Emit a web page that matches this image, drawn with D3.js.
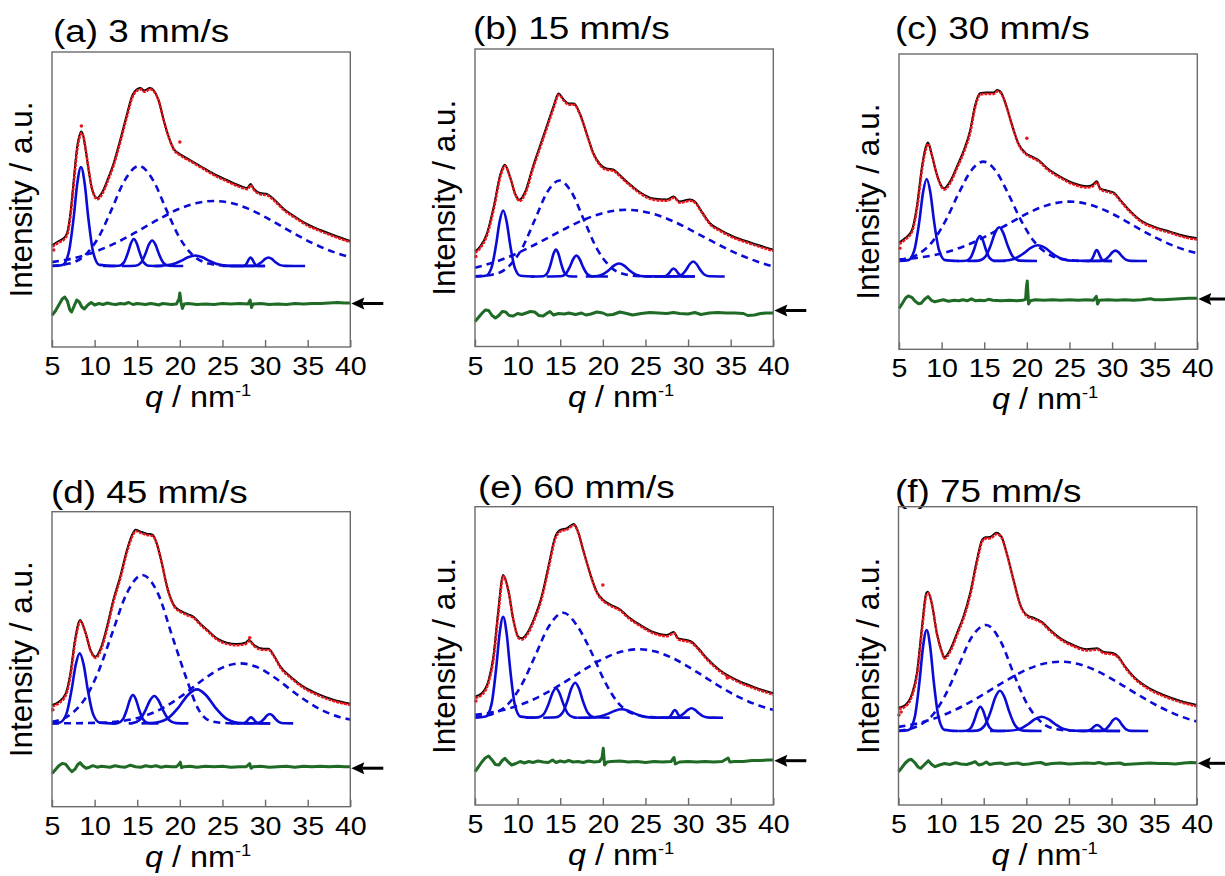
<!DOCTYPE html>
<html>
<head>
<meta charset="utf-8">
<script src="https://cdn.jsdelivr.net/npm/d3@7"></script>
<style>
  body { margin: 0; background: #fff; }
  svg { display: block; font-family: "Liberation Sans", Arial, sans-serif; }
</style>
</head>
<body>
<div id="chart"></div>
<script>
// Six panels of q-profiles with peak decomposition (a.u.)

const qTicks = [5, 10, 15, 20, 25, 30, 35, 40];
const panelTitles = ["(a) 3 mm/s", "(b) 15 mm/s", "(c) 30 mm/s", "(d) 45 mm/s", "(e) 60 mm/s", "(f) 75 mm/s"];
const arrowLevels = [43.5, 36, 50.3, 38.5, 44.3, 41.7];

// ---- (a) 3 mm/s ----
const fitA = [[5,101.7],[5.8,106],[6.4,109],[6.8,115],[7.15,133],[7.55,167],[7.95,200],[8.2,211],[8.45,215.5],[8.7,210],[8.9,200],[9.3,177],[9.7,158],[10.3,149],[10.9,155],[11.5,167],[12.2,183],[13,207],[13.8,233],[14.4,251],[15,258],[15.4,259],[15.8,256.5],[16.5,259],[17,256],[17.5,247],[18.1,227],[18.7,210],[19.3,198],[20,193],[21.2,187],[22.4,181],[24,173],[25.5,167],[27.1,161],[27.9,159],[28.3,163],[28.7,158],[29.4,154],[30.2,153],[31,148],[32.2,138],[33.4,131],[34.9,123],[36.5,117],[38,112],[40,106]];
const outliersA = [[8.45,221],[20,205],[5.2,97]];
const peaksA = [
  [[5,81],[6.24,82.1],[6.96,94.4],[7.54,129.2],[7.97,163.7],[8.4,180],[8.83,163.7],[9.26,129.2],[9.84,94.4],[10.56,82.1],[12.5,81]],
  [[11,81],[12.86,81.3],[13.44,84.6],[13.9,94.1],[14.25,103.5],[14.6,108],[14.95,103.5],[15.3,94.1],[15.76,84.6],[16.34,81.3],[18,81]],
  [[13.2,81],[14.8,81.3],[15.45,84.4],[15.97,93.4],[16.36,102.3],[16.75,106.5],[17.14,102.3],[17.53,93.4],[18.05,84.4],[18.7,81.3],[20.4,81]],
  [[17,81],[17.6,81.1],[19,82.4],[20.12,86.1],[20.96,89.8],[21.8,91.5],[22.64,89.8],[23.48,86.1],[24.6,82.4],[26,81.1],[30,81]],
  [[25,81],[27.4,81],[27.7,82.1],[27.94,85.1],[28.12,88.1],[28.3,89.5],[28.48,88.1],[28.66,85.1],[28.9,82.1],[29.2,81],[30,81]],
  [[26,81],[28.45,81.1],[29.1,82.1],[29.62,85.1],[30.01,88.1],[30.4,89.5],[30.79,88.1],[31.18,85.1],[31.7,82.1],[32.35,81.1],[34.7,81]]
];
const broadA = [
  [[5,81.3],[7,83.4],[9,92.8],[10.5,110.3],[12,137.6],[13.5,166.2],[15.2,181],[16.9,166.2],[18.4,137.6],[19.9,110.3],[21.4,92.8],[23.4,83.4],[25.4,81.3]],
  [[5,84.9],[7.5,88.7],[10,95.1],[12.5,104.1],[15,115.5],[17.5,127.7],[20,138.4],[22,144],[24,146],[26,144],[28,138.4],[30.5,127.7],[33,115.5],[35.5,104.1],[38,95.1],[40,89.8]]
];
const residA = [[5,31.7],[5.4,36],[5.8,42],[6.2,48],[6.5,50],[6.8,46],[7.1,37],[7.3,35],[7.6,41],[7.9,47],[8.2,45],[8.5,40],[8.8,38],[9.2,42],[9.6,44.5],[10,42],[10.5,43.5],[11,42.5],[11.5,44],[12,43],[12.5,42.5],[13,43.5],[13.5,43],[14,44.5],[14.5,42.5],[15,43.5],[15.5,43],[16,42.5],[16.5,43.5],[17,43],[17.5,42],[18,43.5],[18.5,43],[19,42.5],[19.6,43],[19.9,48],[20,54],[20.15,44],[20.3,38.5],[20.5,43],[21,43.5],[22,42.5],[23,43],[24,42.5],[25,43.5],[26,43],[27,43.5],[28,43],[28.25,47],[28.4,39.5],[28.6,43],[29.5,43.5],[30.5,42.5],[31.5,43],[32.5,42.5],[33.5,43.5],[34.5,43],[35.5,43.5],[36.5,43.5],[37.5,44],[38.5,44.5],[39.3,44],[40,44]];

// ---- (b) 15 mm/s ----
const fitB = [[5,95],[5.6,100],[6.4,113],[7.2,140],[8,173],[8.5,181.7],[9.1,170],[9.7,153],[10.2,146.7],[10.9,155],[11.8,180],[12.6,200],[13.4,220],[14.2,240],[14.8,253],[15.4,247],[16,243],[16.6,243],[17.3,233],[18.1,213],[18.9,193],[19.7,182],[20.4,178],[21.2,177],[21.8,173],[22.4,168],[23.2,162],[24.4,154],[25.9,148],[27.5,147],[28.3,150],[29,145],[30.2,147],[30.8,145],[31.6,135],[32.6,123],[33.7,117],[35.3,110],[37.3,104],[40,96.7]];
const outliersB = [[5.1,90]];
const peaksB = [
  [[5,70],[6.26,70.7],[6.94,78.9],[7.48,102.1],[7.89,125.1],[8.3,136],[8.71,125.1],[9.12,102.1],[9.66,78.9],[10.34,70.7],[12,70]],
  [[11.5,70],[13,70.3],[13.5,73.6],[13.9,83.1],[14.2,92.5],[14.5,97],[14.8,92.5],[15.1,83.1],[15.5,73.6],[16,70.3],[17,70]],
  [[13.4,70],[15.04,70.2],[15.66,72.8],[16.16,80.2],[16.53,87.5],[16.9,91],[17.27,87.5],[17.64,80.2],[18.14,72.8],[18.76,70.2],[20.6,70]],
  [[18,70],[18.9,70.1],[19.9,71.8],[20.7,76.3],[21.3,80.9],[21.9,83],[22.5,80.9],[23.1,76.3],[23.9,71.8],[24.9,70.1],[30.8,70]],
  [[26,70],[27.1,70],[27.5,71.1],[27.82,73.9],[28.06,76.7],[28.3,78],[28.54,76.7],[28.78,73.9],[29.1,71.1],[29.5,70],[30.8,70]],
  [[27,70],[28.65,70.2],[29.3,72],[29.82,77.3],[30.21,82.5],[30.6,85],[30.99,82.5],[31.38,77.3],[31.9,72],[32.55,70.2],[34.3,70]]
];
const broadB = [
  [[5,70.2],[7,71.8],[9,80.4],[10.5,97.9],[12,126.2],[13.5,154.7],[14.9,166],[16.3,154.7],[17.8,126.2],[19.3,97.9],[20.8,80.4],[22.8,71.8],[24.8,70.2],[26,70]],
  [[5,78.8],[7.5,85],[10,93.4],[12.5,103.9],[15,115.2],[17.5,125.8],[20,133.4],[22.8,136.7],[25.6,133.4],[28.1,125.8],[30.6,115.2],[33.1,103.9],[35.6,93.4],[38.1,85],[40,80.1]]
];
const residB = [[5,25],[5.4,29],[5.8,33],[6.2,36.5],[6.6,36],[7,31],[7.4,28.5],[7.8,31],[8.2,35],[8.6,34.5],[9,31],[9.5,30.5],[10,33],[10.5,32],[11,33.5],[11.5,35],[12,34.5],[12.5,31],[13,30.5],[13.5,33.5],[13.8,35],[14.2,31.5],[14.8,33],[15.5,32.5],[16,33.5],[16.8,32],[17.5,33.5],[18,31.5],[18.6,32.5],[19.3,34.5],[20,33.5],[20.5,31.5],[21.2,32],[22,34.5],[22.8,33],[23.5,31.5],[24.5,33],[25.5,34],[26.5,33.5],[27.5,33],[28.3,34],[29,33],[30,32.5],[30.8,34],[31.5,32],[32.5,33.5],[33.5,34],[34.5,33.5],[35.5,33.5],[36.5,33],[37,31],[37.8,31.5],[38.5,33],[39.2,33.5],[40,33.5]];

// ---- (c) 30 mm/s ----
const fitC = [[5,106.7],[5.7,111],[6.5,119],[7.1,143],[7.7,183],[8.1,201],[8.4,206.7],[8.8,196],[9.4,176],[10,163],[10.3,161],[11,168],[11.8,183],[12.6,199],[13.35,219],[13.9,243],[14.5,256],[15.3,256.7],[16.1,256.7],[16.5,259.3],[16.9,257.7],[17.5,246],[18.2,226],[19,206],[19.8,196.7],[20.6,192.7],[21.4,189],[22.4,181],[23.9,172.7],[25.5,166],[27.1,163],[27.7,164.3],[28.2,168],[28.6,161],[29.4,158.7],[30.2,156.7],[31,149],[32.2,137.7],[33.3,129.3],[34.9,122.7],[36.8,117.7],[38.8,112.7],[40,111]];
const outliersC = [[20,211],[5.1,101]];
const peaksC = [
  [[5,88.3],[6.09,89.2],[6.81,99.4],[7.39,128.2],[7.82,156.8],[8.25,170.3],[8.68,156.8],[9.11,128.2],[9.69,99.4],[10.41,89.2],[12,88.3]],
  [[11.8,88.3],[12.85,88.6],[13.4,91.7],[13.84,100.5],[14.17,109.2],[14.5,113.3],[14.83,109.2],[15.16,100.5],[15.6,91.7],[16.15,88.6],[17.5,88.3]],
  [[13,88.3],[14.35,88.7],[15.15,92.8],[15.79,104.7],[16.27,116.4],[16.75,122],[17.23,116.4],[17.71,104.7],[18.35,92.8],[19.15,88.7],[21.2,88.3]],
  [[16,88.3],[17.1,88.5],[18.5,90.4],[19.62,95.9],[20.46,101.4],[21.3,104],[22.14,101.4],[22.98,95.9],[24.1,90.4],[25.5,88.5],[30,88.3]],
  [[26.5,88.3],[27.3,88.3],[27.6,89.8],[27.84,93.7],[28.02,97.5],[28.2,99.3],[28.38,97.5],[28.56,93.7],[28.8,89.8],[29.1,88.3],[30,88.3]],
  [[27,88.3],[28.6,88.4],[29.2,89.7],[29.68,93.4],[30.04,97],[30.4,98.7],[30.76,97],[31.12,93.4],[31.6,89.7],[32.2,88.4],[34.1,88.3]]
];
const broadC = [
  [[5,89.4],[7,94],[9,108.4],[10.5,129.2],[12,155.9],[13.5,179.1],[14.9,187.7],[16.3,179.1],[17.8,155.9],[19.3,129.2],[20.8,108.4],[22.8,94],[24.8,89.4],[26.5,88.3]],
  [[5,89.8],[7.5,91.9],[10,95.9],[12.5,102.6],[15,112.1],[17.5,123.8],[20,135.6],[22.5,144.4],[25,147.7],[27.5,144.4],[30,135.6],[32.5,123.8],[35,112.1],[37.5,102.6],[40,95.9]]
];
const residC = [[5,41],[5.4,46],[5.8,51.5],[6.1,53.3],[6.5,52],[6.9,48],[7.3,45.5],[7.6,46],[8,50],[8.4,52.7],[8.8,49],[9.2,47.5],[9.7,48.5],[10.2,49.5],[10.8,48],[11.5,49],[12,48.5],[12.5,49.5],[13,48.5],[13.5,50.5],[14,48.5],[14.5,49],[15,48.5],[15.5,50],[16,49],[17,48.5],[18,49],[18.8,48.5],[19.5,49],[19.85,50],[19.95,62],[20.05,68.3],[20.2,45.3],[20.4,48.5],[21,49.5],[22,49],[23,49.5],[24,49],[25,49.5],[26,49],[27,49.5],[27.8,49],[28.15,53],[28.3,45.3],[28.5,49],[29.5,49.5],[30.5,49],[31.5,49.5],[32.5,49],[33.5,49.5],[34.5,50.5],[35,49.5],[36,49.5],[37,50],[38,50.5],[39,51],[40,51]];

// ---- (d) 45 mm/s ----
const fitD = [[5,101.7],[5.8,105],[6.6,113],[7.15,133],[7.7,167],[8.3,186.7],[8.9,175],[9.5,157],[10.1,150],[10.7,158],[11.45,180],[12.2,207],[13,230],[13.8,257],[14.4,272],[14.8,277],[15.4,275],[16.1,273],[16.8,272],[17.3,263],[17.9,243],[18.5,220],[19.3,201.7],[20.05,196],[20.8,193],[21.6,190],[22.4,183],[23.2,177],[24.4,168],[25.5,164],[26.7,162.7],[27.7,164],[28.1,166.7],[28.7,161.7],[29.8,158],[30.4,158],[31,151.7],[31.8,140],[33,130],[34.5,120],[36.1,113],[38,107],[40,103]];
const outliersD = [[5.1,97],[28.2,169]];
const peaksD = [
  [[5,83.3],[5.91,84.1],[6.69,92.8],[7.31,117.4],[7.78,141.8],[8.25,153.3],[8.72,141.8],[9.19,117.4],[9.81,92.8],[10.59,84.1],[12.5,83.3]],
  [[12,83.3],[12.7,83.6],[13.3,87.1],[13.78,97.1],[14.14,107],[14.5,111.7],[14.86,107],[15.22,97.1],[15.7,87.1],[16.3,83.6],[17.5,83.3]],
  [[14,83.3],[14.45,83.6],[15.3,87],[15.98,96.6],[16.49,106.2],[17,110.7],[17.51,106.2],[18.02,96.6],[18.7,87],[19.55,83.6],[21,83.3]],
  [[15.5,83.3],[16.75,83.7],[18.5,87.9],[19.9,99.9],[20.95,111.7],[22,117.3],[23.05,111.7],[24.1,99.9],[25.5,87.9],[27.25,83.7],[30.6,83.3]],
  [[26,83.3],[27.3,83.3],[27.65,84.1],[27.93,86.2],[28.14,88.3],[28.35,89.3],[28.56,88.3],[28.77,86.2],[29.05,84.1],[29.4,83.3],[30.6,83.3]],
  [[27.5,83.3],[28.9,83.4],[29.45,84.6],[29.89,87.9],[30.22,91.1],[30.55,92.7],[30.88,91.1],[31.21,87.9],[31.65,84.6],[32.2,83.4],[33.3,83.3]]
];
const broadD = [
  [[5,85],[7,91.2],[9,109.7],[10.5,136.2],[12,172],[13.8,213.8],[15.6,231.7],[17.4,213.8],[19.2,168],[20.7,130],[22.2,97],[23.5,86],[25,83.8],[27,83.3]],
  [[5,83.3],[10,83.8],[13,85.5],[15.5,89.8],[18,98.6],[20.5,112.5],[23,128.7],[25,139.1],[27.1,143.3],[29.2,139.1],[31.2,128.7],[33.7,112.5],[36.2,98.6],[38.7,89.8],[40,87.1]]
];
const residD = [[5,33.3],[5.4,37],[5.8,41],[6.2,43.3],[6.6,42.5],[7,38],[7.35,35],[7.7,37.5],[8,42],[8.3,44],[8.6,41],[9,38.5],[9.4,39.5],[9.8,41],[10.3,39.5],[10.8,40.5],[11.3,40],[11.8,39.5],[12.4,41],[13,40],[13.6,39.5],[14.2,41.5],[14.8,40],[15.4,39.5],[16,41],[16.6,40],[17.2,41],[17.8,39.5],[18.4,40.5],[19,40],[19.6,40],[19.9,42.5],[20.05,44.5],[20.2,39],[20.5,40],[21.2,40.5],[22,39.5],[23,40.5],[24,40],[25,40.5],[26,39.5],[27,40],[27.8,40],[28.2,43],[28.35,38.5],[28.6,40],[29.5,40.5],[30.5,39.5],[31.5,40],[32.5,40.5],[33.5,39.5],[34.5,40.5],[35.5,40],[36.5,40.5],[37.5,40],[38.5,40.5],[39.3,40],[40,40]];

// ---- (e) 60 mm/s ----
const fitE = [[5,108.3],[5.8,111.7],[6.6,125],[7.15,148],[7.7,192],[8.3,230],[8.9,215],[9.5,185],[10.1,168],[10.5,166.7],[11.1,171.7],[12,188],[12.8,208],[13.6,238],[14.4,268],[15,275],[15.75,276.7],[16.6,281],[17.1,273],[17.7,255],[18.5,231.7],[19.3,213],[20.05,205],[21,200],[22,195.7],[23,188],[24.4,180],[25.9,173],[27.5,170],[28.3,173],[28.85,166.7],[29.8,165],[30.4,163.3],[31.2,156.7],[32.2,146.7],[33.7,135],[35.7,125],[37.6,118.3],[40,111.7]];
const outliersE = [[20,220],[5.1,104],[34.6,127]];
const peaksE = [
  [[5,87.3],[6.26,88.4],[6.94,100.9],[7.48,136.5],[7.89,171.6],[8.3,188.3],[8.71,171.6],[9.12,136.5],[9.66,100.9],[10.34,88.4],[12,87.3]],
  [[11,87.3],[12.4,87.6],[13.1,91.3],[13.66,101.6],[14.08,111.8],[14.5,116.7],[14.92,111.8],[15.34,101.6],[15.9,91.3],[16.6,87.6],[17,87.3]],
  [[13,87.3],[14.5,87.7],[15.25,92],[15.85,104.3],[16.3,116.5],[16.75,122.3],[17.2,116.5],[17.65,104.3],[18.25,92],[19,87.7],[20.8,87.3]],
  [[17,87.3],[18.3,87.4],[19.6,88.4],[20.64,91.4],[21.42,94.3],[22.2,95.7],[22.98,94.3],[23.76,91.4],[24.8,88.4],[26.1,87.4],[30.2,87.3]],
  [[26.5,87.3],[27.55,87.3],[27.85,88.3],[28.09,91],[28.27,93.7],[28.45,95],[28.63,93.7],[28.81,91],[29.05,88.3],[29.35,87.3],[30.2,87.3]],
  [[27,87.3],[28.3,87.4],[29,88.6],[29.56,91.9],[29.98,95.1],[30.4,96.7],[30.82,95.1],[31.24,91.9],[31.8,88.6],[32.5,87.4],[34.1,87.3]]
];
const broadE = [
  [[5,87.9],[7,90.8],[9,102],[10.5,120.6],[12,148],[13.6,177.7],[15.35,192.3],[17.1,177.7],[18.7,152],[20.2,124],[21.7,103],[23.7,90.8],[25.7,87.9],[27,87.4]],
  [[5,90.1],[7.5,93.4],[10,99.2],[12.5,108.2],[15,120.2],[17.5,133.7],[20,146],[22.2,153.4],[24.2,155.7],[26.2,153.4],[28.4,146],[30.9,133.7],[33.4,120.2],[35.9,108.2],[38.4,99.2],[40,95.2]]
];
const residE = [[5,33.3],[5.4,38],[5.8,43],[6.2,47],[6.6,49],[7,45],[7.4,40.5],[7.8,40],[8.2,44.5],[8.5,46.7],[8.9,43],[9.3,40],[9.8,41.5],[10.3,43.5],[10.8,42],[11.3,43.5],[11.8,42.5],[12.4,44],[13,43],[13.6,42.5],[14.1,45],[14.5,42.5],[15,44],[15.5,43],[16,44.5],[16.5,43],[17.1,43.5],[17.7,42.5],[18.3,44],[19,43],[19.6,43.5],[19.9,47],[20.05,56.7],[20.2,40],[20.5,43],[21,43.5],[22,44],[23,43],[24,43.5],[25,42.5],[26,43.5],[27,43],[28,43.5],[28.35,47.5],[28.5,41],[29,43],[30,43.5],[31,43],[32,43.5],[33,43],[34,43.5],[34.7,47],[34.9,43],[35.5,43.5],[36.5,43.5],[37.5,44.5],[38.5,44.5],[39.3,45],[40,45]];

// ---- (f) 75 mm/s ----
const fitF = [[5,97.3],[5.8,100],[6.6,111.7],[7.15,131.7],[7.75,178],[8.25,211.7],[8.45,213.3],[8.9,201.7],[9.5,171.7],[10.1,153],[10.35,147.7],[11.05,155],[11.85,171.7],[12.6,188],[13.4,211.7],[14.2,245],[14.8,265],[15.2,267.7],[15.75,268],[16.5,272.3],[17.1,268],[17.7,251.7],[18.5,225],[19.3,200],[20.05,190],[21,186.7],[21.8,183.3],[22.8,175],[24,166.7],[25.5,160],[27.1,155.7],[28.3,156.7],[29,153.3],[30.2,151.7],[30.8,148.3],[31.6,138.3],[32.6,128.3],[34.1,118.3],[36.1,110],[38,104.3],[40,100]];
const outliersF = [[5.05,90],[5.3,93]];
const peaksF = [
  [[5,74],[6.2,75.1],[6.9,87.6],[7.46,123.2],[7.88,158.3],[8.3,175],[8.72,158.3],[9.14,123.2],[9.7,87.6],[10.4,75.1],[12,74]],
  [[12,74],[12.95,74.3],[13.5,77.3],[13.94,85.8],[14.27,94.3],[14.6,98.3],[14.93,94.3],[15.26,85.8],[15.7,77.3],[16.25,74.3],[17.5,74]],
  [[13,74],[14.2,74.4],[15.1,79.4],[15.82,93.6],[16.36,107.7],[16.9,114.3],[17.44,107.7],[17.98,93.6],[18.7,79.4],[19.6,74.4],[21.8,74]],
  [[15.75,74],[17.9,74.2],[19.2,75.9],[20.24,81],[21.02,85.9],[21.8,88.3],[22.58,85.9],[23.36,81],[24.4,75.9],[25.7,74.2],[31,74]],
  [[26,74],[26.95,74],[27.4,74.8],[27.76,76.9],[28.03,79],[28.3,80],[28.57,79],[28.84,76.9],[29.2,74.8],[29.65,74],[31,74]],
  [[27.5,74],[28.7,74.1],[29.3,75.7],[29.78,80.2],[30.14,84.6],[30.5,86.7],[30.86,84.6],[31.22,80.2],[31.7,75.7],[32.3,74.1],[34.3,74]]
];
const broadF = [
  [[5,74.2],[7,78],[9,90],[10.5,110],[12,138],[13.6,168],[15.3,180],[17,163.3],[18.6,129.5],[20.1,100.9],[21.6,84],[23.6,75.8],[25.6,74.2],[27,74]],
  [[5,78.1],[7.5,82.2],[10,89],[12.5,98.7],[15,110.8],[17.5,123.8],[20,135.2],[22,141.2],[24,143.3],[26,141.2],[28,135.2],[30.5,123.8],[33,110.8],[35.5,98.7],[38,89],[40,83.4]]
];
const residF = [[5,33.3],[5.4,37.5],[5.8,42],[6.2,45],[6.5,45.7],[6.9,42.5],[7.3,38],[7.6,36.7],[8,40],[8.5,44.3],[8.9,40.5],[9.3,38.3],[9.8,40],[10.4,41.5],[11,40.5],[11.7,42.3],[12.3,41],[13,40.5],[13.6,42],[14,43.3],[14.4,40],[14.9,41],[15.3,43],[15.7,40.5],[16.3,41.5],[17,42],[17.6,40.5],[18.3,41.5],[19,42],[19.6,40.5],[20.3,41],[21,42],[21.7,42.5],[22.3,40.5],[23,41.5],[24,42],[25,41],[26,41.5],[27,42],[28,41.5],[28.5,42.5],[29.3,41],[30,41.5],[31,42],[31.5,40.5],[32.5,41],[33.5,41.5],[34.5,42],[35.5,41.5],[36.5,41.5],[37.5,41],[38.5,42],[39.3,42.5],[40,42.3]];

const panels = [
  { fit: fitA, outliers: outliersA, peaks: peaksA, broad: broadA, resid: residA },
  { fit: fitB, outliers: outliersB, peaks: peaksB, broad: broadB, resid: residB },
  { fit: fitC, outliers: outliersC, peaks: peaksC, broad: broadC, resid: residC },
  { fit: fitD, outliers: outliersD, peaks: peaksD, broad: broadD, resid: residD },
  { fit: fitE, outliers: outliersE, peaks: peaksE, broad: broadE, resid: residE },
  { fit: fitF, outliers: outliersF, peaks: peaksF, broad: broadF, resid: residF }
];

// panel frames on the page
const layout = [
  { left: 52,    top: 52,    h: 295,   tx: 53,  ty: 42 },
  { left: 475,   top: 49,    h: 297.5, tx: 473, ty: 38.5 },
  { left: 899,   top: 54,    h: 295.3, tx: 895, ty: 38.5 },
  { left: 52,    top: 511.7, h: 295,   tx: 51,  ty: 503 },
  { left: 475,   top: 506.7, h: 298.3, tx: 478, ty: 498 },
  { left: 898.5, top: 506.7, h: 298.3, tx: 895, ty: 501.7 }
];
const W = 298.3;

const BLUE = "#0b0bd6", GREEN = "#1f6b25", RED = "#e8151b", FRAME = "#6b6b6b";

const svg = d3.select("#chart").append("svg")
  .attr("width", 1225).attr("height", 876);
svg.append("rect").attr("width", 1225).attr("height", 876).attr("fill", "#fff");

panels.forEach((p, i) => {
  const L = layout[i];
  const x = d3.scaleLinear().domain([5, 40]).range([0, W]);
  const y = d3.scaleLinear().domain([0, L.h]).range([L.h, 0]);
  const smooth = d3.line().x(d => x(d[0])).y(d => y(d[1])).curve(d3.curveMonotoneX);
  const straight = d3.line().x(d => x(d[0])).y(d => y(d[1]));

  // title
  svg.append("text")
    .attr("transform", `translate(${L.tx},${L.ty}) scale(1.19,1)`)
    .attr("font-size", 31)
    .attr("fill", "#000")
    .text(panelTitles[i]);

  const g = svg.append("g").attr("transform", `translate(${L.left},${L.top})`);

  // broad (dashed) components
  g.selectAll(".broad").data(p.broad).enter().append("path")
    .attr("d", smooth)
    .attr("fill", "none")
    .attr("stroke", BLUE)
    .attr("stroke-width", 2.6)
    .attr("stroke-dasharray", "7,5");

  // narrow (solid) components
  g.selectAll(".peak").data(p.peaks).enter().append("path")
    .attr("d", smooth)
    .attr("fill", "none")
    .attr("stroke", BLUE)
    .attr("stroke-width", 2.6);

  // fit
  g.append("path").datum(p.fit)
    .attr("d", smooth)
    .attr("fill", "none")
    .attr("stroke", "#000")
    .attr("stroke-width", 2);

  // measured points (dense red dots, sitting just under the fit)
  g.append("path").datum(p.fit)
    .attr("d", smooth)
    .attr("transform", "translate(0.3,1.3)")
    .attr("fill", "none")
    .attr("stroke", RED)
    .attr("stroke-width", 2.5)
    .attr("stroke-dasharray", "3,1");

  g.selectAll(".out").data(p.outliers).enter().append("circle")
    .attr("cx", d => x(d[0]))
    .attr("cy", d => y(d[1]))
    .attr("r", 1.8)
    .attr("fill", RED);

  // residual
  g.append("path").datum(p.resid)
    .attr("d", straight)
    .attr("fill", "none")
    .attr("stroke", GREEN)
    .attr("stroke-width", 3)
    .attr("stroke-linejoin", "round");

  // frame
  g.append("rect")
    .attr("width", W).attr("height", L.h)
    .attr("fill", "none")
    .attr("stroke", FRAME)
    .attr("stroke-width", 1.4);

  // x axis, inward ticks
  const ax = g.append("g")
    .attr("transform", `translate(0,${L.h})`)
    .call(d3.axisBottom(x).tickValues(qTicks).tickSize(-7).tickFormat(d3.format("d")));
  ax.select(".domain").remove();
  ax.selectAll(".tick line").attr("stroke", FRAME).attr("stroke-width", 1.4);
  ax.selectAll(".tick text")
    .attr("y", 0).attr("dy", null)
    .attr("transform", "translate(0,28) scale(1.1,1)")
    .attr("font-family", "Liberation Sans, Arial, sans-serif")
    .attr("font-size", 26)
    .attr("fill", "#000");

  // x label
  const xl = g.append("text")
    .attr("transform", `translate(${W / 2 - 3},${L.h + 60}) scale(1.08,1)`)
    .attr("text-anchor", "middle")
    .attr("font-size", 30)
    .attr("fill", "#000");
  xl.append("tspan").attr("font-style", "italic").text("q");
  xl.append("tspan").text(" / nm");
  xl.append("tspan").attr("font-size", 17).attr("dy", -11).text("-1");

  // y label
  g.append("text")
    .attr("transform", `translate(-20,${L.h / 2}) rotate(-90)`)
    .attr("text-anchor", "middle")
    .attr("font-size", 31.5)
    .attr("fill", "#000")
    .text("Intensity / a.u.");

  // arrow marking the residual zero level
  const ay = y(arrowLevels[i]);
  g.append("line")
    .attr("x1", W + 12).attr("x2", W + 33)
    .attr("y1", ay).attr("y2", ay)
    .attr("stroke", "#000").attr("stroke-width", 3);
  g.append("path")
    .attr("d", `M${W + 1},${ay} L${W + 14},${ay - 6} L${W + 12},${ay} L${W + 14},${ay + 6} Z`)
    .attr("fill", "#000");
});
</script>
</body>
</html>
